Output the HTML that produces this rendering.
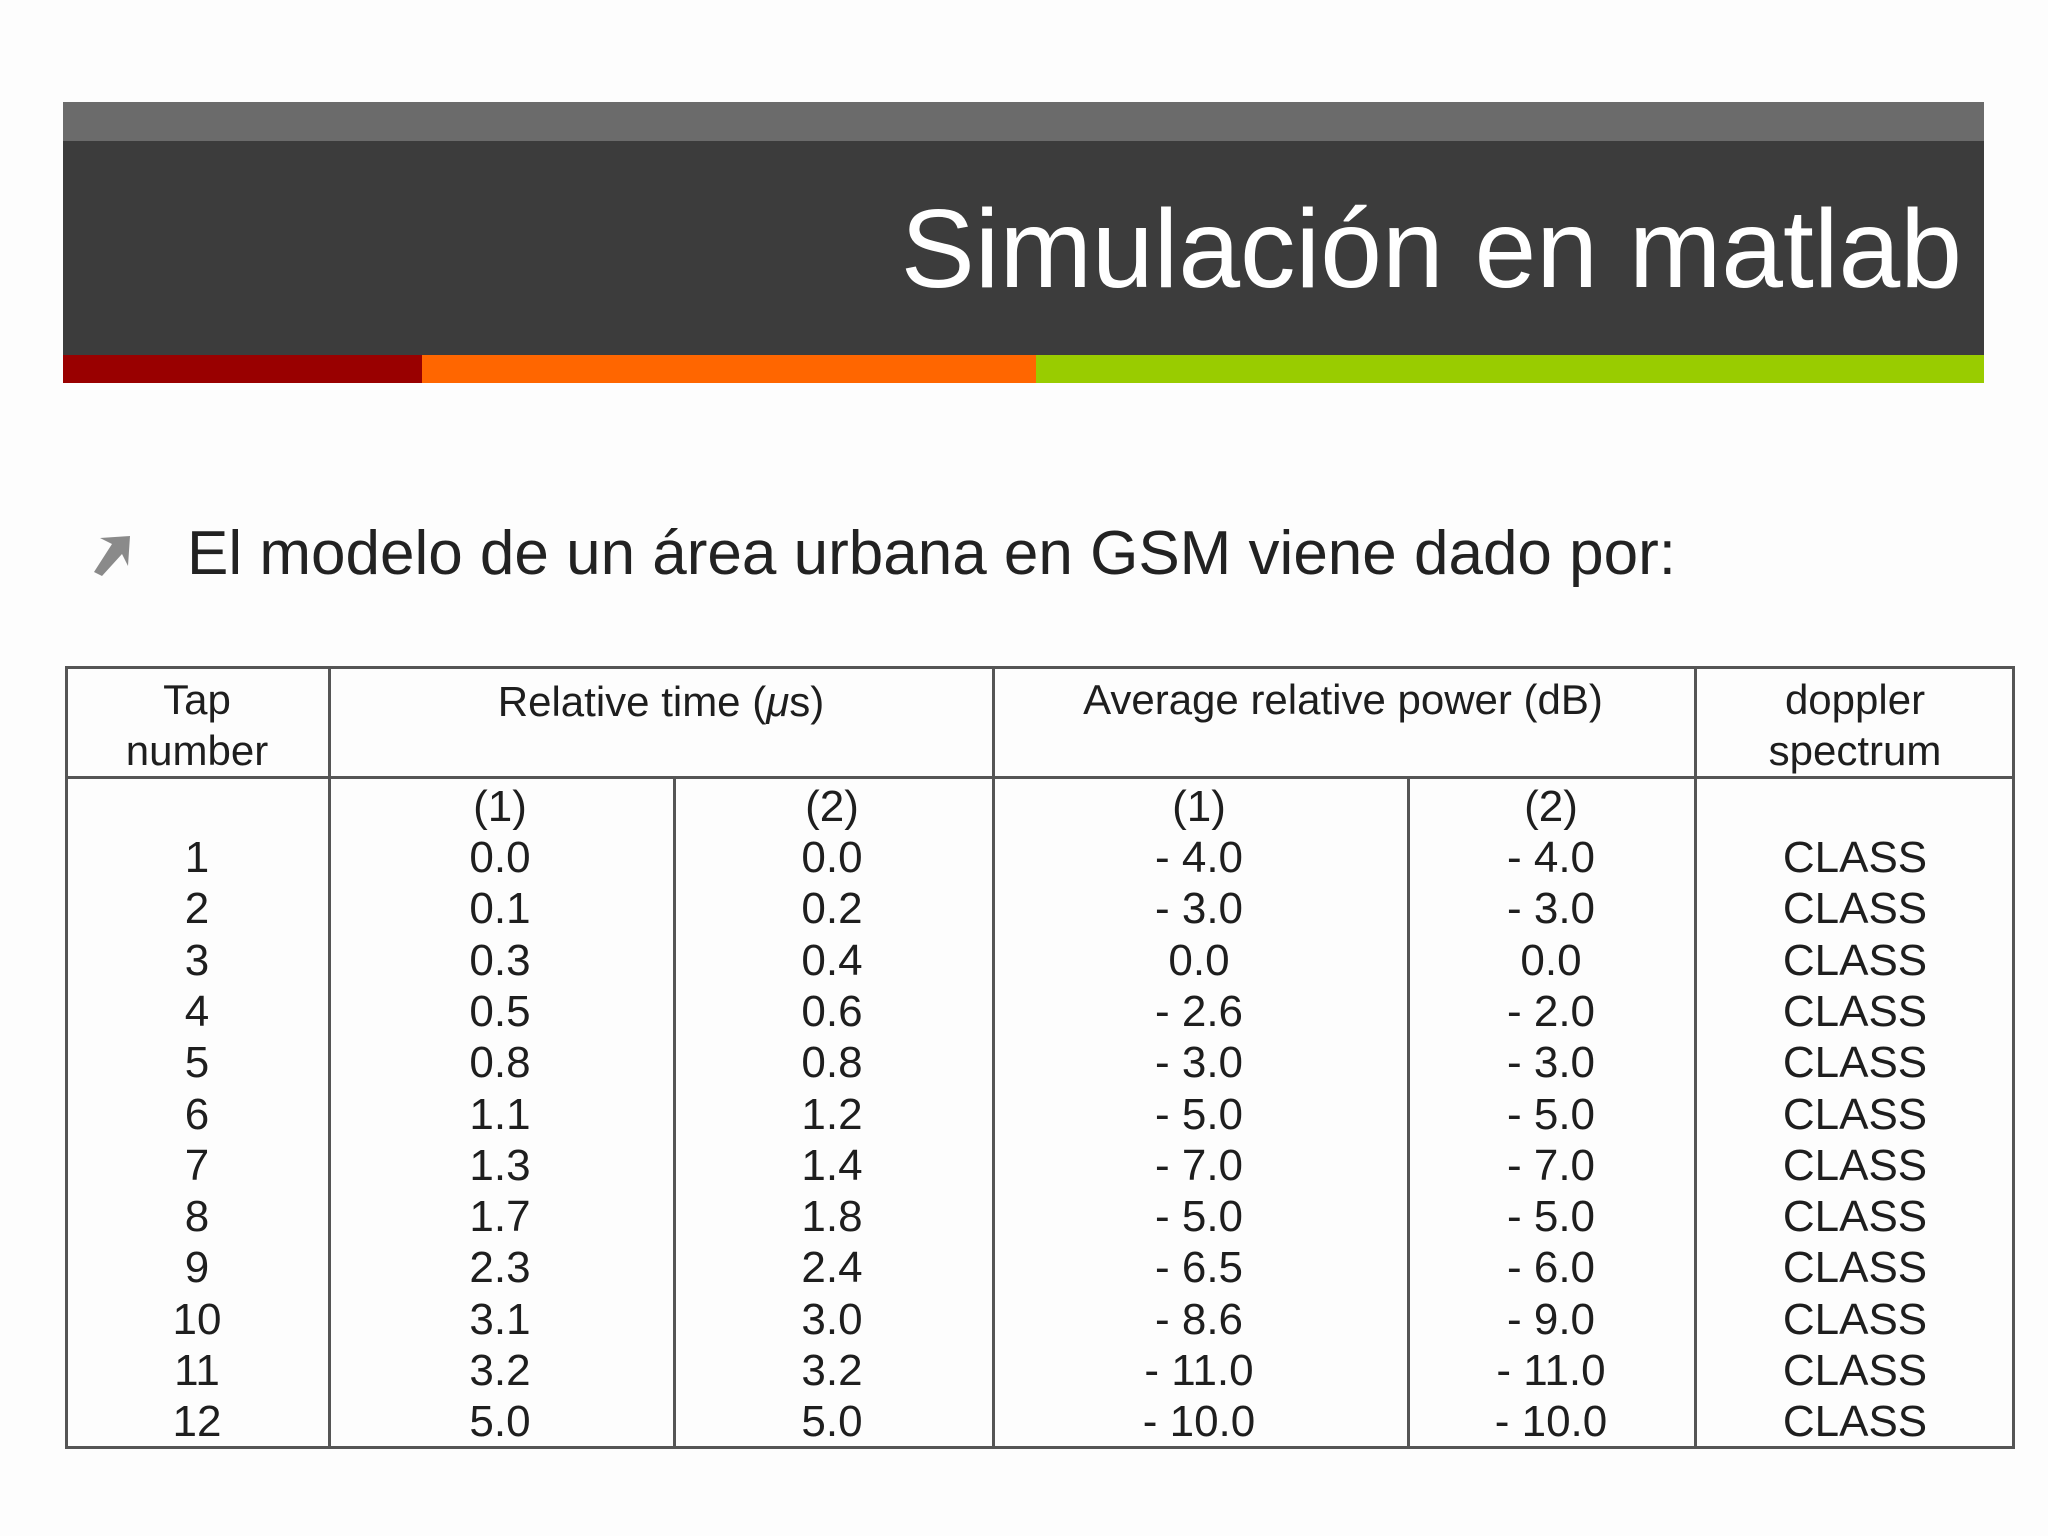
<!DOCTYPE html>
<html><head><meta charset="utf-8"><style>
html,body{margin:0;padding:0}
body{width:2048px;height:1536px;background:#fdfdfd;position:relative;overflow:hidden;font-family:"Liberation Sans",sans-serif}
.abs{position:absolute}
.c{position:absolute;transform:translate(-50%,-50%);white-space:nowrap;color:#1e1e1e;font-size:44px;line-height:1}
.hl{position:absolute;background:#555}
</style></head><body>
<div class="abs" style="left:63px;top:102px;width:1921px;height:39px;background:#6b6b6b"></div>
<div class="abs" style="left:63px;top:141px;width:1921px;height:214px;background:#3c3c3c"></div>
<div class="abs" style="left:63px;top:355px;width:359px;height:28px;background:#990000"></div>
<div class="abs" style="left:422px;top:355px;width:614px;height:28px;background:#ff6600"></div>
<div class="abs" style="left:1036px;top:355px;width:948px;height:28px;background:#99cc00"></div>
<div class="abs" style="right:86px;top:194px;color:#fff;font-size:111px;line-height:1;white-space:nowrap">Simulación en matlab</div>
<svg class="abs" style="left:88px;top:532px" width="46" height="46" viewBox="0 0 46 46"><polygon points="6,40 14,44 34,22 40,34 42,4 12,6 24,12" fill="#8a8a8a"/></svg>
<div class="abs" style="left:187px;top:523px;font-size:62px;line-height:1;color:#222;white-space:nowrap">El modelo de un área urbana en GSM viene dado por:</div>

<div id="table">
<div class="hl" style="left:65px;top:666px;width:1950px;height:3px"></div>
<div class="hl" style="left:65px;top:1446px;width:1950px;height:3px"></div>
<div class="hl" style="left:65px;top:666px;width:3px;height:783px"></div>
<div class="hl" style="left:2012px;top:666px;width:3px;height:783px"></div>
<div class="hl" style="left:65px;top:776px;width:1950px;height:3px"></div>
<div class="hl" style="left:328px;top:666px;width:3px;height:783px"></div>
<div class="hl" style="left:673px;top:776px;width:3px;height:673px"></div>
<div class="hl" style="left:992px;top:666px;width:3px;height:783px"></div>
<div class="hl" style="left:1407px;top:776px;width:3px;height:673px"></div>
<div class="hl" style="left:1694px;top:666px;width:3px;height:783px"></div>
<div class="c" style="left:197px;top:700px;font-size:42px">Tap</div>
<div class="c" style="left:197px;top:751px;font-size:42px">number</div>
<div class="c" style="left:661px;top:702px;font-size:42px">Relative time (<i>μ</i>s)</div>
<div class="c" style="left:1343px;top:700px;font-size:42px">Average relative power (dB)</div>
<div class="c" style="left:1855px;top:700px;font-size:42px">doppler</div>
<div class="c" style="left:1855px;top:751px;font-size:42px">spectrum</div>
</div>
<script>
const taps=["1","2","3","4","5","6","7","8","9","10","11","12"];
const time1=["0.0","0.1","0.3","0.5","0.8","1.1","1.3","1.7","2.3","3.1","3.2","5.0"];
const time2=["0.0","0.2","0.4","0.6","0.8","1.2","1.4","1.8","2.4","3.0","3.2","5.0"];
const power1=["- 4.0","- 3.0","0.0","- 2.6","- 3.0","- 5.0","- 7.0","- 5.0","- 6.5","- 8.6","- 11.0","- 10.0"];
const power2=["- 4.0","- 3.0","0.0","- 2.0","- 3.0","- 5.0","- 7.0","- 5.0","- 6.0","- 9.0","- 11.0","- 10.0"];
const doppler=["CLASS","CLASS","CLASS","CLASS","CLASS","CLASS","CLASS","CLASS","CLASS","CLASS","CLASS","CLASS"];
const subHeaders=["","(1)","(2)","(1)","(2)",""];
const colX=[197,500,832,1199,1551,1855];
const cols=[taps,time1,time2,power1,power2,doppler];
const colNames=["tap","time-1","time-2","power-1","power-2","doppler"];
const tbl=document.getElementById('table');
function rowY(i){return 858+i*51.3;}
subHeaders.forEach((t,c)=>{ if(!t) return;
  const d=document.createElement('div');d.className='c';
  
  
  d.style.left=colX[c]+'px';d.style.top='807px';d.textContent=t;tbl.appendChild(d);});
cols.forEach((arr,c)=>arr.forEach((v,i)=>{
  const d=document.createElement('div');d.className='c';
  
  
  d.style.left=colX[c]+'px';d.style.top=rowY(i)+'px';d.textContent=v;tbl.appendChild(d);}));
</script>
</body></html>
